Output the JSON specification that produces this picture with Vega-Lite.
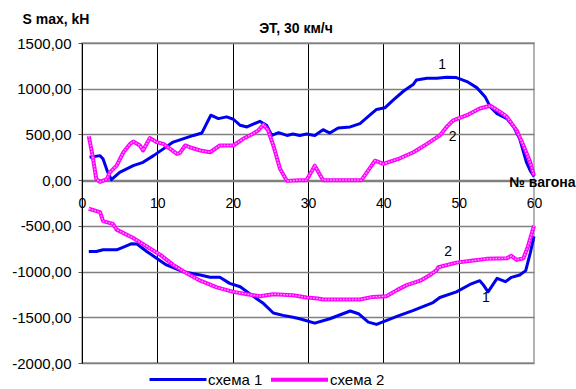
{
  "$schema": "https://vega.github.io/schema/vega-lite/v6.json",
  "width": 452,
  "height": 320,
  "autosize": {"type": "none"},
  "padding": {"left": 82, "top": 43, "right": 42, "bottom": 26},
  "background": "white",
  "title": {
    "text": "ЭТ, 30 км/ч",
    "anchor": "middle",
    "dx": -12,
    "offset": -35,
    "baseline": "alphabetic",
    "font": "Liberation Sans",
    "fontSize": 14,
    "fontWeight": "bold",
    "color": "#000"
  },
  "config": {
    "font": "Liberation Sans",
    "view": {"stroke": "#9a9a9a", "strokeWidth": 1.5}
  },
  "datasets": {
    "curves": [
      {"x": 1, "v": 250, "s": "схема 1", "g": "max"},
      {"x": 2.4, "v": 268, "s": "схема 1", "g": "max"},
      {"x": 2.8, "v": 232, "s": "схема 1", "g": "max"},
      {"x": 3.4, "v": 90, "s": "схема 1", "g": "max"},
      {"x": 3.9, "v": 5, "s": "схема 1", "g": "max"},
      {"x": 5, "v": 85, "s": "схема 1", "g": "max"},
      {"x": 6.8, "v": 158, "s": "схема 1", "g": "max"},
      {"x": 8.1, "v": 195, "s": "схема 1", "g": "max"},
      {"x": 9.5, "v": 268, "s": "схема 1", "g": "max"},
      {"x": 10.8, "v": 342, "s": "схема 1", "g": "max"},
      {"x": 12.1, "v": 416, "s": "схема 1", "g": "max"},
      {"x": 13.4, "v": 452, "s": "схема 1", "g": "max"},
      {"x": 14.8, "v": 489, "s": "схема 1", "g": "max"},
      {"x": 15.9, "v": 515, "s": "схема 1", "g": "max"},
      {"x": 17.1, "v": 710, "s": "схема 1", "g": "max"},
      {"x": 18.1, "v": 673, "s": "схема 1", "g": "max"},
      {"x": 19.2, "v": 692, "s": "схема 1", "g": "max"},
      {"x": 20.1, "v": 666, "s": "схема 1", "g": "max"},
      {"x": 21, "v": 600, "s": "схема 1", "g": "max"},
      {"x": 21.9, "v": 582, "s": "схема 1", "g": "max"},
      {"x": 23.6, "v": 644, "s": "схема 1", "g": "max"},
      {"x": 24.5, "v": 600, "s": "схема 1", "g": "max"},
      {"x": 25.2, "v": 489, "s": "схема 1", "g": "max"},
      {"x": 26.1, "v": 519, "s": "схема 1", "g": "max"},
      {"x": 27.2, "v": 489, "s": "схема 1", "g": "max"},
      {"x": 28, "v": 504, "s": "схема 1", "g": "max"},
      {"x": 28.9, "v": 489, "s": "схема 1", "g": "max"},
      {"x": 29.8, "v": 504, "s": "схема 1", "g": "max"},
      {"x": 30.9, "v": 489, "s": "схема 1", "g": "max"},
      {"x": 32, "v": 552, "s": "схема 1", "g": "max"},
      {"x": 32.9, "v": 515, "s": "схема 1", "g": "max"},
      {"x": 34, "v": 570, "s": "схема 1", "g": "max"},
      {"x": 35.6, "v": 582, "s": "схема 1", "g": "max"},
      {"x": 36.9, "v": 618, "s": "схема 1", "g": "max"},
      {"x": 38.2, "v": 710, "s": "схема 1", "g": "max"},
      {"x": 39.1, "v": 773, "s": "схема 1", "g": "max"},
      {"x": 40.2, "v": 791, "s": "схема 1", "g": "max"},
      {"x": 41.3, "v": 875, "s": "схема 1", "g": "max"},
      {"x": 42.7, "v": 975, "s": "схема 1", "g": "max"},
      {"x": 44, "v": 1049, "s": "схема 1", "g": "max"},
      {"x": 44.4, "v": 1096, "s": "схема 1", "g": "max"},
      {"x": 45.8, "v": 1115, "s": "схема 1", "g": "max"},
      {"x": 47.1, "v": 1115, "s": "схема 1", "g": "max"},
      {"x": 48.4, "v": 1126, "s": "схема 1", "g": "max"},
      {"x": 49.7, "v": 1122, "s": "схема 1", "g": "max"},
      {"x": 51.1, "v": 1078, "s": "схема 1", "g": "max"},
      {"x": 52.4, "v": 1012, "s": "схема 1", "g": "max"},
      {"x": 53.5, "v": 913, "s": "схема 1", "g": "max"},
      {"x": 54.2, "v": 802, "s": "схема 1", "g": "max"},
      {"x": 55.1, "v": 728, "s": "схема 1", "g": "max"},
      {"x": 56.4, "v": 673, "s": "схема 1", "g": "max"},
      {"x": 57.3, "v": 582, "s": "схема 1", "g": "max"},
      {"x": 58.1, "v": 452, "s": "схема 1", "g": "max"},
      {"x": 59, "v": 195, "s": "схема 1", "g": "max"},
      {"x": 59.5, "v": 103, "s": "схема 1", "g": "max"},
      {"x": 60, "v": 40, "s": "схема 1", "g": "max"},

      {"x": 0.9, "v": -780, "s": "схема 1", "g": "min"},
      {"x": 1.9, "v": -780, "s": "схема 1", "g": "min"},
      {"x": 2.8, "v": -762, "s": "схема 1", "g": "min"},
      {"x": 4.6, "v": -762, "s": "схема 1", "g": "min"},
      {"x": 5.5, "v": -732, "s": "схема 1", "g": "min"},
      {"x": 6.6, "v": -695, "s": "схема 1", "g": "min"},
      {"x": 7.3, "v": -699, "s": "схема 1", "g": "min"},
      {"x": 8.6, "v": -780, "s": "схема 1", "g": "min"},
      {"x": 9.9, "v": -854, "s": "схема 1", "g": "min"},
      {"x": 11.2, "v": -927, "s": "схема 1", "g": "min"},
      {"x": 13.4, "v": -1001, "s": "схема 1", "g": "min"},
      {"x": 15.7, "v": -1038, "s": "схема 1", "g": "min"},
      {"x": 17, "v": -1063, "s": "схема 1", "g": "min"},
      {"x": 18.3, "v": -1063, "s": "схема 1", "g": "min"},
      {"x": 19.6, "v": -1129, "s": "схема 1", "g": "min"},
      {"x": 21, "v": -1166, "s": "схема 1", "g": "min"},
      {"x": 22.7, "v": -1269, "s": "схема 1", "g": "min"},
      {"x": 24.1, "v": -1350, "s": "схема 1", "g": "min"},
      {"x": 25.4, "v": -1453, "s": "схема 1", "g": "min"},
      {"x": 26.7, "v": -1479, "s": "схема 1", "g": "min"},
      {"x": 28, "v": -1500, "s": "схема 1", "g": "min"},
      {"x": 28.9, "v": -1516, "s": "схема 1", "g": "min"},
      {"x": 30.9, "v": -1564, "s": "схема 1", "g": "min"},
      {"x": 32.9, "v": -1516, "s": "схема 1", "g": "min"},
      {"x": 35.6, "v": -1431, "s": "схема 1", "g": "min"},
      {"x": 36.7, "v": -1461, "s": "схема 1", "g": "min"},
      {"x": 38, "v": -1553, "s": "схема 1", "g": "min"},
      {"x": 39.1, "v": -1578, "s": "схема 1", "g": "min"},
      {"x": 41.8, "v": -1490, "s": "схема 1", "g": "min"},
      {"x": 44, "v": -1424, "s": "схема 1", "g": "min"},
      {"x": 46.6, "v": -1339, "s": "схема 1", "g": "min"},
      {"x": 47.5, "v": -1284, "s": "схема 1", "g": "min"},
      {"x": 49.7, "v": -1222, "s": "схема 1", "g": "min"},
      {"x": 51.5, "v": -1141, "s": "схема 1", "g": "min"},
      {"x": 52.8, "v": -1100, "s": "схема 1", "g": "min"},
      {"x": 53.3, "v": -1148, "s": "схема 1", "g": "min"},
      {"x": 53.9, "v": -1222, "s": "схема 1", "g": "min"},
      {"x": 55.1, "v": -1074, "s": "схема 1", "g": "min"},
      {"x": 56.2, "v": -1111, "s": "схема 1", "g": "min"},
      {"x": 57, "v": -1063, "s": "схема 1", "g": "min"},
      {"x": 58.1, "v": -1038, "s": "схема 1", "g": "min"},
      {"x": 58.9, "v": -990, "s": "схема 1", "g": "min"},
      {"x": 59.5, "v": -798, "s": "схема 1", "g": "min"},
      {"x": 60, "v": -615, "s": "схема 1", "g": "min"},

      {"x": 0.9, "v": 482, "s": "схема 2", "g": "max"},
      {"x": 1.4, "v": 268, "s": "схема 2", "g": "max"},
      {"x": 1.9, "v": 11, "s": "схема 2", "g": "max"},
      {"x": 2.4, "v": -19, "s": "схема 2", "g": "max"},
      {"x": 3.3, "v": 11, "s": "схема 2", "g": "max"},
      {"x": 3.7, "v": 85, "s": "схема 2", "g": "max"},
      {"x": 4.6, "v": 158, "s": "схема 2", "g": "max"},
      {"x": 5.5, "v": 305, "s": "схема 2", "g": "max"},
      {"x": 6.4, "v": 397, "s": "схема 2", "g": "max"},
      {"x": 6.8, "v": 423, "s": "схема 2", "g": "max"},
      {"x": 7.7, "v": 379, "s": "схема 2", "g": "max"},
      {"x": 8.1, "v": 324, "s": "схема 2", "g": "max"},
      {"x": 9, "v": 460, "s": "схема 2", "g": "max"},
      {"x": 9.9, "v": 416, "s": "схема 2", "g": "max"},
      {"x": 10.8, "v": 397, "s": "схема 2", "g": "max"},
      {"x": 11.7, "v": 342, "s": "схема 2", "g": "max"},
      {"x": 12.6, "v": 287, "s": "схема 2", "g": "max"},
      {"x": 13, "v": 298, "s": "схема 2", "g": "max"},
      {"x": 13.7, "v": 379, "s": "схема 2", "g": "max"},
      {"x": 14.3, "v": 360, "s": "схема 2", "g": "max"},
      {"x": 15.7, "v": 324, "s": "схема 2", "g": "max"},
      {"x": 17, "v": 305, "s": "схема 2", "g": "max"},
      {"x": 18.3, "v": 379, "s": "схема 2", "g": "max"},
      {"x": 20.1, "v": 379, "s": "схема 2", "g": "max"},
      {"x": 21.4, "v": 452, "s": "схема 2", "g": "max"},
      {"x": 22.7, "v": 508, "s": "схема 2", "g": "max"},
      {"x": 23.4, "v": 545, "s": "схема 2", "g": "max"},
      {"x": 24.1, "v": 607, "s": "схема 2", "g": "max"},
      {"x": 24.7, "v": 545, "s": "схема 2", "g": "max"},
      {"x": 25.4, "v": 379, "s": "схема 2", "g": "max"},
      {"x": 26.3, "v": 121, "s": "схема 2", "g": "max"},
      {"x": 27.2, "v": -8, "s": "схема 2", "g": "max"},
      {"x": 28.9, "v": 0, "s": "схема 2", "g": "max"},
      {"x": 29.8, "v": 0, "s": "схема 2", "g": "max"},
      {"x": 30.9, "v": 158, "s": "схема 2", "g": "max"},
      {"x": 32, "v": 0, "s": "схема 2", "g": "max"},
      {"x": 37.1, "v": 0, "s": "схема 2", "g": "max"},
      {"x": 38.9, "v": 213, "s": "схема 2", "g": "max"},
      {"x": 40, "v": 177, "s": "схема 2", "g": "max"},
      {"x": 42.2, "v": 239, "s": "схема 2", "g": "max"},
      {"x": 44, "v": 305, "s": "схема 2", "g": "max"},
      {"x": 45.8, "v": 397, "s": "схема 2", "g": "max"},
      {"x": 47.5, "v": 489, "s": "схема 2", "g": "max"},
      {"x": 48.4, "v": 582, "s": "схема 2", "g": "max"},
      {"x": 49.3, "v": 655, "s": "схема 2", "g": "max"},
      {"x": 51.1, "v": 710, "s": "схема 2", "g": "max"},
      {"x": 52.8, "v": 784, "s": "схема 2", "g": "max"},
      {"x": 54.2, "v": 813, "s": "схема 2", "g": "max"},
      {"x": 55.5, "v": 747, "s": "схема 2", "g": "max"},
      {"x": 56.4, "v": 692, "s": "схема 2", "g": "max"},
      {"x": 57.7, "v": 545, "s": "схема 2", "g": "max"},
      {"x": 58.6, "v": 379, "s": "схема 2", "g": "max"},
      {"x": 59.5, "v": 195, "s": "схема 2", "g": "max"},
      {"x": 60, "v": 48, "s": "схема 2", "g": "max"},

      {"x": 0.9, "v": -313, "s": "схема 2", "g": "min"},
      {"x": 2.4, "v": -350, "s": "схема 2", "g": "min"},
      {"x": 2.8, "v": -449, "s": "схема 2", "g": "min"},
      {"x": 4.1, "v": -478, "s": "схема 2", "g": "min"},
      {"x": 4.6, "v": -541, "s": "схема 2", "g": "min"},
      {"x": 6.8, "v": -633, "s": "схема 2", "g": "min"},
      {"x": 8.6, "v": -725, "s": "схема 2", "g": "min"},
      {"x": 10.4, "v": -817, "s": "схема 2", "g": "min"},
      {"x": 12.1, "v": -927, "s": "схема 2", "g": "min"},
      {"x": 13.9, "v": -1019, "s": "схема 2", "g": "min"},
      {"x": 15.7, "v": -1100, "s": "схема 2", "g": "min"},
      {"x": 17.9, "v": -1173, "s": "схема 2", "g": "min"},
      {"x": 20.1, "v": -1222, "s": "схема 2", "g": "min"},
      {"x": 21.9, "v": -1247, "s": "схема 2", "g": "min"},
      {"x": 23.6, "v": -1269, "s": "схема 2", "g": "min"},
      {"x": 25.4, "v": -1247, "s": "схема 2", "g": "min"},
      {"x": 28, "v": -1258, "s": "схема 2", "g": "min"},
      {"x": 29.8, "v": -1284, "s": "схема 2", "g": "min"},
      {"x": 31.3, "v": -1295, "s": "схема 2", "g": "min"},
      {"x": 32, "v": -1306, "s": "схема 2", "g": "min"},
      {"x": 36.9, "v": -1306, "s": "схема 2", "g": "min"},
      {"x": 38.6, "v": -1277, "s": "схема 2", "g": "min"},
      {"x": 40.4, "v": -1269, "s": "схема 2", "g": "min"},
      {"x": 41.8, "v": -1203, "s": "схема 2", "g": "min"},
      {"x": 43.1, "v": -1148, "s": "схема 2", "g": "min"},
      {"x": 44.9, "v": -1100, "s": "схема 2", "g": "min"},
      {"x": 46.2, "v": -1038, "s": "схема 2", "g": "min"},
      {"x": 47.1, "v": -982, "s": "схема 2", "g": "min"},
      {"x": 47.3, "v": -953, "s": "схема 2", "g": "min"},
      {"x": 49.7, "v": -902, "s": "схема 2", "g": "min"},
      {"x": 51.9, "v": -880, "s": "схема 2", "g": "min"},
      {"x": 53.7, "v": -861, "s": "схема 2", "g": "min"},
      {"x": 56.4, "v": -854, "s": "схема 2", "g": "min"},
      {"x": 57, "v": -828, "s": "схема 2", "g": "min"},
      {"x": 57.7, "v": -872, "s": "схема 2", "g": "min"},
      {"x": 58.6, "v": -854, "s": "схема 2", "g": "min"},
      {"x": 59.2, "v": -725, "s": "схема 2", "g": "min"},
      {"x": 60, "v": -497, "s": "схема 2", "g": "min"}
    ],
    "tags": [
      {"x": 47.8, "v": 1258, "t": "1"},
      {"x": 49.2, "v": 475, "t": "2"},
      {"x": 48.6, "v": -791, "t": "2"},
      {"x": 53.6, "v": -1291, "t": "1"}
    ]
  },
  "layer": [
    {
      "data": {"name": "curves"},
      "mark": {"type": "line", "strokeJoin": "round", "interpolate": "linear"},
      "encoding": {
        "x": {
          "field": "x",
          "type": "quantitative",
          "scale": {"domain": [0, 60], "nice": false, "zero": false},
          "axis": {
            "values": [0, 10, 20, 30, 40, 50, 60],
            "offset": -182,
            "grid": true,
            "gridColor": {"condition": {"test": "datum.value === 0 || datum.value === 60", "value": "transparent"}, "value": "#000000"},
            "gridWidth": 1,
            "ticks": false,
            "domainColor": "#808080",
            "domainWidth": 1.5,
            "labelFont": "Liberation Sans",
            "labelFontSize": 14,
            "labelColor": "#000000",
            "labelPadding": 15,
            "labelFlush": false,
            "title": "№ вагона",
            "titleFont": "Liberation Sans",
            "titleFontSize": 14,
            "titleFontWeight": "bold",
            "titleColor": "#000000",
            "titleX": 493,
            "titleY": 5,
            "titleAlign": "right",
            "titleBaseline": "alphabetic",
            "titleAnchor": null
          }
        },
        "y": {
          "field": "v",
          "type": "quantitative",
          "scale": {"domain": [-2000, 1500], "nice": false, "zero": false},
          "axis": {
            "values": [-2000, -1500, -1000, -500, 0, 500, 1000, 1500],
            "grid": true,
            "gridColor": "#808080",
            "gridWidth": 1.5,
            "ticks": true,
            "tickSize": 4,
            "tickColor": "#555555",
            "tickWidth": 1,
            "domainColor": "#000000",
            "domainWidth": 1,
            "labelExpr": "(datum.value < 0 ? '-' : '') + replace(format(abs(datum.value), '.2f'), '.', ',')",
            "labelFont": "Liberation Sans",
            "labelFontSize": 15,
            "labelColor": "#000000",
            "labelPadding": 7,
            "title": "S max, kH",
            "titleAngle": 0,
            "titleX": -60,
            "titleY": -24,
            "titleAlign": "left",
            "titleBaseline": "middle",
            "titleFont": "Liberation Sans",
            "titleFontSize": 14,
            "titleFontWeight": "bold",
            "titleColor": "#000000"
          }
        },
        "color": {
          "field": "s",
          "type": "nominal",
          "scale": {"domain": ["схема 1", "схема 2"], "range": ["#0000F0", "#FF00FF"]},
          "legend": {
            "title": null,
            "orient": "none",
            "direction": "horizontal",
            "legendX": 66,
            "legendY": 306,
            "symbolType": "stroke",
            "symbolSize": 3249,
            "symbolStrokeWidth": 3,
            "labelFont": "Liberation Sans",
            "labelFontSize": 15,
            "labelColor": "#000000",
            "labelOffset": 0,
            "columnPadding": 0,
            "encode": {
              "symbols": {
                "update": {
                  "strokeWidth": {"signal": "datum.label === 'схема 2' ? 4 : 3"}
                }
              }
            }
          }
        },
        "detail": {"field": "g"},
        "strokeWidth": {
          "field": "s",
          "type": "nominal",
          "scale": {"domain": ["схема 1", "схема 2"], "range": [3, 4]},
          "legend": null
        },
        "order": {"field": "x", "type": "quantitative"}
      }
    },
    {
      "data": {"name": "curves"},
      "transform": [{"filter": {"field": "s", "equal": "схема 2"}}],
      "mark": {"type": "line", "color": "#FFA6FF", "strokeWidth": 1.4, "strokeDash": [1.6, 1.4]},
      "encoding": {
        "x": {"field": "x", "type": "quantitative"},
        "y": {"field": "v", "type": "quantitative"},
        "detail": {"field": "g"},
        "order": {"field": "x", "type": "quantitative"}
      }
    },
    {
      "data": {"name": "tags"},
      "mark": {"type": "text", "font": "Liberation Sans", "fontSize": 14, "color": "#000000", "baseline": "middle", "align": "center"},
      "encoding": {
        "x": {"field": "x", "type": "quantitative"},
        "y": {"field": "v", "type": "quantitative"},
        "text": {"field": "t"}
      }
    }
  ]
}
